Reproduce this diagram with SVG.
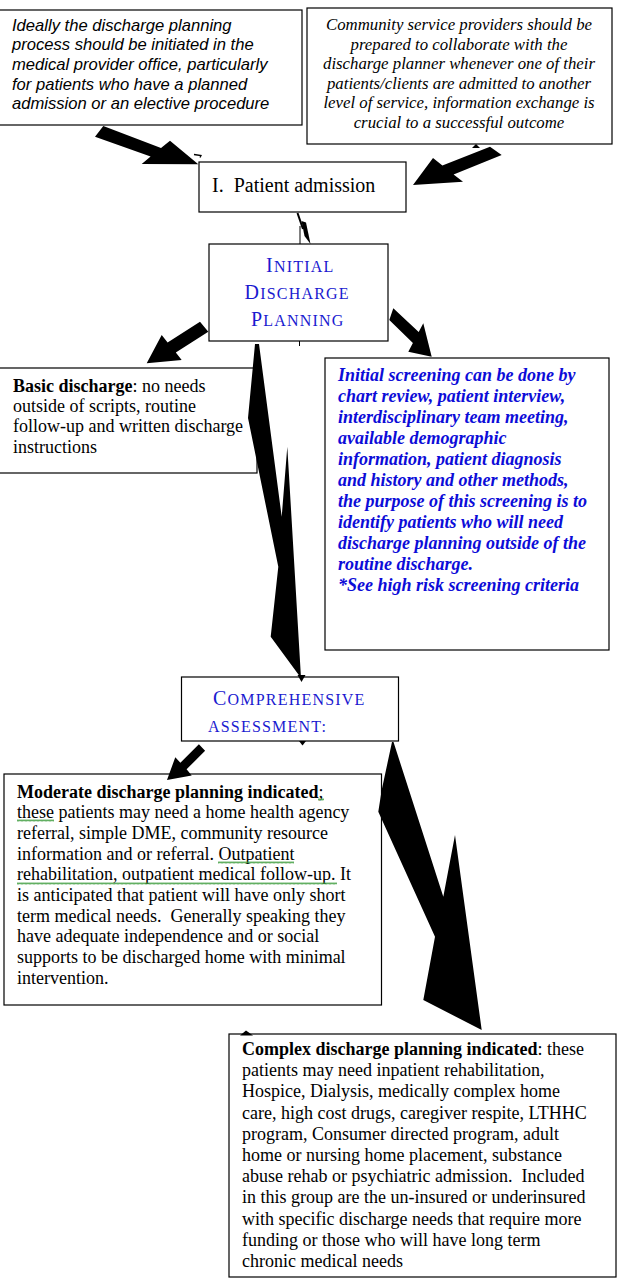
<svg xmlns="http://www.w3.org/2000/svg" width="618" height="1280" viewBox="0 0 618 1280">
<style>
.box{fill:#fff;stroke:#000;stroke-width:1.2}
.ts{font-family:"Liberation Serif","Times New Roman",serif;font-size:18px;fill:#000}
.b{font-weight:bold}
.sans{font-family:"Liberation Sans",Arial,sans-serif;font-size:16.6px;font-style:italic;fill:#000}
.ital{font-family:"Liberation Serif","Times New Roman",serif;font-size:16.8px;font-style:italic;fill:#000}
.sc{font-family:"Liberation Serif","Times New Roman",serif;fill:#1a1ad0;letter-spacing:1.2px;font-size:16px}
.big{font-size:20px}
.scr{font-family:"Liberation Serif","Times New Roman",serif;font-size:18px;font-weight:bold;font-style:italic;fill:#0c0cd8}
.arr{fill:#000;stroke:none}
.sq{fill:url(#wave)}
</style>
<defs>
<pattern id="wave" width="4" height="3" patternUnits="userSpaceOnUse">
<path d="M0,2.5 L1,0.5 L2,2.5 L3,0.5 L4,2.5" fill="none" stroke="#3a9a3a" stroke-width="0.8"/>
</pattern>
</defs>
<rect width="618" height="1280" fill="#fff"/>

<g id="node-office">
<rect class="box" x="-1" y="10" width="303" height="115"/>
<text class="sans" x="12" y="30.5">Ideally the discharge planning</text>
<text class="sans" x="12" y="50.2">process should be initiated in the</text>
<text class="sans" x="12" y="69.9">medical provider office, particularly</text>
<text class="sans" x="12" y="89.6">for patients who have a planned</text>
<text class="sans" x="12" y="109.3">admission or an elective procedure</text>
</g>

<g id="node-community">
<rect class="box" x="307" y="8" width="305" height="136"/>
<text class="ital" text-anchor="middle" x="459" y="30">Community service providers should be</text>
<text class="ital" text-anchor="middle" x="459" y="49.6">prepared to collaborate with the</text>
<text class="ital" text-anchor="middle" x="459" y="69.2">discharge planner whenever one of their</text>
<text class="ital" text-anchor="middle" x="459" y="88.8">patients/clients are admitted to another</text>
<text class="ital" text-anchor="middle" x="459" y="108.4">level of service, information exchange is</text>
<text class="ital" text-anchor="middle" x="459" y="128">crucial to a successful outcome</text>
</g>

<g id="node-admission">
<rect class="box" x="199" y="162" width="207" height="50"/>
<text class="ts" style="font-size:20px" x="212" y="192">I.&#160; Patient admission</text>
</g>

<g id="node-initial">
<rect class="box" x="209" y="244" width="179" height="97"/>
<text class="sc" x="266" y="272"><tspan class="big">I</tspan>NITIAL</text>
<text class="sc" x="244.5" y="299"><tspan class="big">D</tspan>ISCHARGE</text>
<text class="sc" x="251" y="326"><tspan class="big">P</tspan>LANNING</text>
</g>

<g id="node-basic">
<rect class="box" x="-1" y="368" width="258" height="105"/>
<text class="ts" x="13" y="391.5"><tspan class="b">Basic discharge</tspan>: no needs</text>
<text class="ts" x="13" y="411.9">outside of scripts, routine</text>
<text class="ts" x="13" y="432.3">follow-up and written discharge</text>
<text class="ts" x="13" y="452.7">instructions</text>
</g>

<g id="node-screening">
<rect class="box" x="325" y="358" width="284" height="292"/>
<text class="scr" x="338" y="381">Initial screening can be done by</text>
<text class="scr" x="338" y="402">chart review, patient interview,</text>
<text class="scr" x="338" y="423">interdisciplinary team meeting,</text>
<text class="scr" x="338" y="444">available demographic</text>
<text class="scr" x="338" y="465">information, patient diagnosis</text>
<text class="scr" x="338" y="486">and history and other methods,</text>
<text class="scr" x="338" y="507">the purpose of this screening is to</text>
<text class="scr" x="338" y="528">identify patients who will need</text>
<text class="scr" x="338" y="549">discharge planning outside of the</text>
<text class="scr" x="338" y="570">routine discharge.</text>
<text class="scr" x="338" y="591">*See high risk screening criteria</text>
</g>

<g id="node-comprehensive">
<rect class="box" x="181.5" y="677" width="217" height="64"/>
<text class="sc" x="213" y="705"><tspan class="big">C</tspan>OMPREHENSIVE</text>
<text class="sc" x="208" y="731.5">ASSESSMENT:</text>
</g>

<g id="node-moderate">
<rect class="box" x="4" y="774" width="377.5" height="231"/>
<text class="ts" x="17" y="797.5"><tspan class="b">Moderate discharge planning indicated</tspan>;</text>
<text class="ts" x="17" y="818.2">these patients may need a home health agency</text>
<text class="ts" x="17" y="838.9">referral, simple DME, community resource</text>
<text class="ts" x="17" y="859.6">information and or referral. Outpatient</text>
<text class="ts" x="17" y="880.3">rehabilitation, outpatient medical follow-up. It</text>
<text class="ts" x="17" y="901">is anticipated that patient will have only short</text>
<text class="ts" x="17" y="921.7">term medical needs.&#160; Generally speaking they</text>
<text class="ts" x="17" y="942.4">have adequate independence and or social</text>
<text class="ts" x="17" y="963.1">supports to be discharged home with minimal</text>
<text class="ts" x="17" y="983.8">intervention.</text>
<rect class="sq" x="318" y="798" width="6" height="3"/>
<rect class="sq" x="17" y="819" width="37" height="3"/>
<rect class="sq" x="218" y="861" width="76" height="3"/>
<rect class="sq" x="17" y="882" width="320" height="3"/>
</g>

<g id="node-complex">
<rect class="box" x="229" y="1034" width="387" height="243"/>
<text class="ts" x="242" y="1055"><tspan class="b">Complex discharge planning indicated</tspan>: these</text>
<text class="ts" x="242" y="1076.2">patients may need inpatient rehabilitation,</text>
<text class="ts" x="242" y="1097.4">Hospice, Dialysis, medically complex home</text>
<text class="ts" x="242" y="1118.6">care, high cost drugs, caregiver respite, LTHHC</text>
<text class="ts" x="242" y="1139.8">program, Consumer directed program, adult</text>
<text class="ts" x="242" y="1161">home or nursing home placement, substance</text>
<text class="ts" x="242" y="1182.2">abuse rehab or psychiatric admission.&#160; Included</text>
<text class="ts" x="242" y="1203.4">in this group are the un-insured or underinsured</text>
<text class="ts" x="242" y="1224.6">with specific discharge needs that require more</text>
<text class="ts" x="242" y="1245.8">funding or those who will have long term</text>
<text class="ts" x="242" y="1267">chronic medical needs</text>
</g>

<g id="connectors">
<polygon class="arr" points="103.3,126 161,148 170,140.7 198.3,164.3 141.7,164 150.6,156.6 95,136.7"/>
<path d="M194,154.5 L201,155.5 L200,157.5" fill="none" stroke="#000" stroke-width="1.3"/>
<polygon class="arr" points="490,146.7 442.4,165.5 433,158 413,185 463,181.7 453.6,174.5 501.7,155"/>
<polygon class="arr" points="472,148 480,148 476,144"/>
<path d="M297.5,213 L303,229" fill="none" stroke="#000" stroke-width="2"/>
<line x1="300" y1="226" x2="300" y2="244" stroke="#000" stroke-width="1"/>
<polygon class="arr" points="301.5,221 306,222.5 310.5,244 304.5,236"/>
<polygon class="arr" points="200,321.7 167.6,342.4 161.7,335 146.7,363.3 181.7,360 175.8,352.6 208.3,331.7"/>
<polygon class="arr" points="393.3,308.3 418.7,332 423.3,323.3 431.7,356.7 408.3,351.7 412.9,343 389.3,320"/>
<line x1="299.5" y1="341" x2="299.5" y2="346" stroke="#000" stroke-width="1"/>
<polygon class="arr" points="255,344 248,418 278.3,566.7 270.7,636.7 301,678 287.3,446.7 281.7,516.7 259,344"/>
<polygon class="arr" points="297.5,675 305.5,675 301.5,682"/>
<polygon class="arr" points="299,741 306,741 302.5,745.5"/>
<polygon class="arr" points="198.9,744.2 180.4,762.7 175.3,757.2 167,780 191.7,775.5 186.6,769.3 205.1,750.8"/>
<polygon class="arr" points="392,742 381.7,790 378.3,811.7 435,936.7 423.3,1000 481.7,1030 455,835 443.3,896.7 393.5,742"/>
<polygon class="arr" points="240,1035.5 253,1035.5 246,1030.5"/>
</g>
</svg>
